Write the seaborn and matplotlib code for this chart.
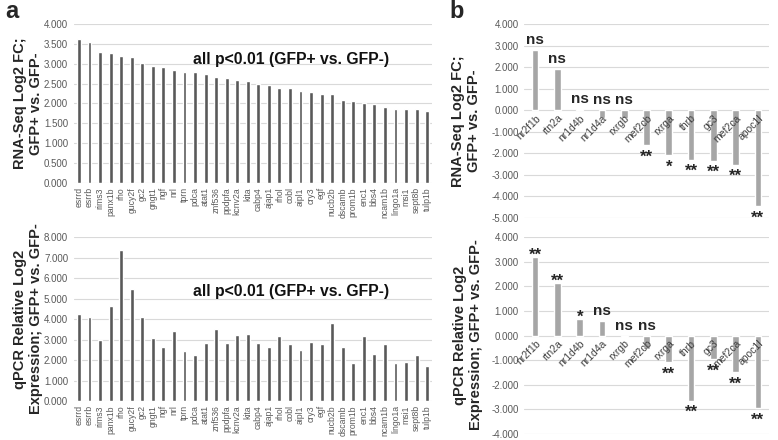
import numpy as np
import pandas as pd
import seaborn as sns
import matplotlib.pyplot as plt

# ---------------- data ----------------
genes_a = ["esrrd", "esrrb", "rims3", "panx1b", "rho", "gucy2f", "gc2", "gngt1", "ngf", "nrl",
           "tprn", "pdca", "atat1", "znf536", "ppdpfa", "kcnv2a", "kita", "cabp4", "ajap1", "rhol",
           "cobl", "aipl1", "cry3", "egf", "nucb2b", "dscamb", "prom1b", "enc1", "bbs4", "ncam1b",
           "lingo1a", "msi1", "sept8b", "tulp1b"]
rnaseq_a = [3.62, 3.55, 3.30, 3.26, 3.19, 3.16, 3.03, 2.94, 2.91, 2.85,
            2.79, 2.79, 2.73, 2.66, 2.64, 2.60, 2.57, 2.49, 2.47, 2.40,
            2.40, 2.32, 2.30, 2.25, 2.24, 2.10, 2.06, 2.00, 1.98, 1.92,
            1.86, 1.86, 1.86, 1.81]
qpcr_a = [4.26, 4.10, 2.98, 4.64, 7.38, 5.46, 4.11, 3.06, 2.65, 3.40,
          2.45, 2.22, 2.81, 3.52, 2.81, 3.22, 3.26, 2.81, 2.65, 3.16,
          2.76, 2.48, 2.88, 2.76, 3.80, 2.65, 1.86, 3.19, 2.29, 2.76,
          1.86, 1.91, 2.22, 1.73]

genes_b = ["nr2f1b", "rtn2a", "nr1d4b", "nr1d4a", "rxrgb", "mef2cb", "rxrga", "thrb", "gc3",
           "mef2ca", "apoc1l"]
rnaseq_b = [2.79, 1.92, 0.05, -0.34, -0.37, -1.63, -2.09, -2.31, -2.35, -2.52, -4.46]
qpcr_b = [3.19, 2.15, 0.66, 0.58, -0.08, -0.55, -1.09, -2.65, -0.96, -1.50, -2.95]
sig_rnaseq_b = ["ns", "ns", "ns", "ns", "ns", "**", "*", "**", "**", "**", "**"]
sig_qpcr_b = ["**", "**", "*", "ns", "ns", "ns", "**", "**", "**", "**", "**"]

note_a = "all p<0.01 (GFP+ vs. GFP-)"
ylab_rna = "RNA-Seq Log2 FC;\nGFP+ vs. GFP-"
ylab_qpcr = "qPCR Relative Log2\nExpression; GFP+ vs. GFP-"

# ---------------- style ----------------
sns.set_style("white")
plt.rcParams['font.family'] = ['Liberation Sans', 'DejaVu Sans']
plt.rcParams['axes.unicode_minus'] = False

W, H = 778, 440
fig = plt.figure(figsize=(W / 100, H / 100), dpi=100)


def px_axes(x0, y0, x1, y1):
    return fig.add_axes([x0 / W, 1 - y1 / H, (x1 - x0) / W, (y1 - y0) / H])


def style_axis(ax, lo, hi, step):
    ax.set_ylim(lo, hi)
    ax.set_yticks(np.arange(lo, hi + step / 2, step))
    ax.yaxis.set_major_formatter("{x:.3f}")
    ax.grid(axis="y", color="#d9d9d9", linewidth=0.8)
    ax.set_axisbelow(True)
    for s in ax.spines.values():
        s.set_visible(False)
    ax.tick_params(axis="y", length=0, labelsize=7, labelcolor="#595959", pad=4)
    ax.set_xlabel("")
    ax.set_ylabel("")


def panel_a(ax, values, lo, hi, step, note_y):
    sns.barplot(x=genes_a, y=values, color="#595959", width=0.37, ax=ax, saturation=1)
    style_axis(ax, lo, hi, step)
    ax.tick_params(axis="x", length=0, labelsize=6.2, labelcolor="#595959", rotation=90, pad=3)
    ax.text(0.606, note_y, note_a, transform=ax.transAxes, ha="center", va="center",
            fontsize=11.3, fontweight="bold", color="#111111")


def panel_b(ax, values, sigs, lo, hi):
    sns.barplot(x=genes_b, y=values, color="#a6a6a6", width=0.3, ax=ax, saturation=1)
    style_axis(ax, lo, hi, 1)
    ax.spines["bottom"].set_position(("data", 0))
    ax.xaxis.set_zorder(3)  # names sit on top of the bars
    ax.tick_params(axis="x", length=0, labelsize=7.5, labelcolor="#404040", pad=2)
    for lab in ax.get_xticklabels():
        lab.set_rotation(45)
        lab.set_ha("right")
        lab.set_va("top")
        lab.set_rotation_mode("anchor")
    for i, (v, s) in enumerate(zip(values, sigs)):
        if s == "ns":
            ax.annotate(s, (i, max(v, 0)), xytext=(0, 2), textcoords="offset points",
                        ha="center", va="bottom", fontsize=11, fontweight="bold")
        elif v > 0:
            ax.annotate(s, (i, v), xytext=(0, -2), textcoords="offset points",
                        ha="center", va="baseline", fontsize=12, fontweight="bold")
        else:
            ax.annotate(s, (i, v), xytext=(0, -3), textcoords="offset points",
                        ha="center", va="top", fontsize=12, fontweight="bold")


ax1 = px_axes(73.7, 24, 432.4, 183)
panel_a(ax1, rnaseq_a, 0, 4, 0.5, 0.774)
ax2 = px_axes(73.7, 237, 432.4, 401)
panel_a(ax2, qpcr_a, 0, 8, 1, 0.67)

ax3 = px_axes(524, 24, 769, 218)
panel_b(ax3, rnaseq_b, sig_rnaseq_b, -5, 4)
ax4 = px_axes(524, 237, 769, 434)
panel_b(ax4, qpcr_b, sig_qpcr_b, -4, 4)

# y labels and panel letters
lab_kw = dict(rotation=90, ha="center", va="center", fontsize=10.5, fontweight="bold",
              linespacing=1.15, multialignment="center")
fig.text(28 / W, 1 - 103.5 / H, ylab_rna, **lab_kw)
fig.text(28 / W, 1 - 319 / H, ylab_qpcr, **lab_kw)
fig.text(466 / W, 1 - 121 / H, ylab_rna, **lab_kw)
fig.text(468 / W, 1 - 335 / H, ylab_qpcr, **lab_kw)
fig.text(5 / W, 1 - 12 / H, "a", fontsize=17, fontweight="bold", va="center")
fig.text(449 / W, 1 - 12 / H, "b", fontsize=17, fontweight="bold", va="center")

fig.savefig("out.png", dpi=100)
